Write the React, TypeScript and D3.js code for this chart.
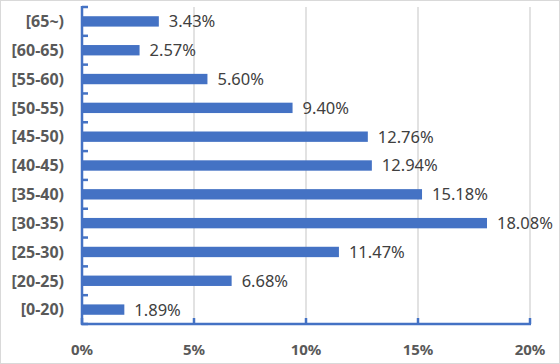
import React, { useEffect, useRef } from 'react';
import * as d3 from 'd3';

const categories = ['[0-20)', '[20-25)', '[25-30)', '[30-35)', '[35-40)', '[40-45)', '[45-50)', '[50-55)', '[55-60)', '[60-65)', '[65~)'];
const shares = [1.89, 6.68, 11.47, 18.08, 15.18, 12.94, 12.76, 9.40, 5.60, 2.57, 3.43];
const xTicks = [0, 5, 10, 15, 20];

const W = 560;
const H = 364;
const BLUE = '#4472C4';

const App = () => {
  const ref = useRef<SVGSVGElement>(null);

  useEffect(() => {
    const svg = d3.select(ref.current);
    svg.selectAll('*').remove();

    const left = 82;
    const right = 530;
    const top = 7;
    const bottom = 324;

    const x = d3.scaleLinear().domain([0, 20]).range([left, right]);
    // top of the chart is the last category
    const y = d3.scaleBand<string>()
      .domain([...categories].reverse())
      .range([top, bottom])
      .paddingInner(0)
      .paddingOuter(0);
    const barH = y.bandwidth() * 0.36;

    // chart border
    svg.append('rect')
      .attr('x', 0.5).attr('y', 0.5)
      .attr('width', W - 1).attr('height', H - 1)
      .attr('fill', '#fff')
      .attr('stroke', '#d9d9d9');

    // gridlines
    svg.selectAll('.grid')
      .data(xTicks.slice(1))
      .enter()
      .append('line')
      .attr('x1', d => x(d)).attr('x2', d => x(d))
      .attr('y1', top).attr('y2', bottom)
      .attr('stroke', '#d9d9d9')
      .attr('stroke-width', 1.5);

    // bars
    svg.selectAll('.bar')
      .data(categories)
      .enter()
      .append('rect')
      .attr('x', x(0))
      .attr('y', d => (y(d) as number) + y.bandwidth() / 2 - barH / 2)
      .attr('width', (_, i) => x(shares[i]) - x(0))
      .attr('height', barH)
      .attr('fill', BLUE);

    // value labels
    svg.selectAll('.val')
      .data(categories)
      .enter()
      .append('text')
      .attr('x', (_, i) => x(shares[i]) + 10)
      .attr('y', d => (y(d) as number) + y.bandwidth() / 2)
      .attr('dy', '0.36em')
      .style('font-family', 'Noto Sans, sans-serif')
      .style('font-size', '16.5px')
      .style('fill', '#404040')
      .text((_, i) => shares[i].toFixed(2) + '%');

    // category labels
    svg.selectAll('.cat')
      .data(categories)
      .enter()
      .append('text')
      .attr('x', 64)
      .attr('y', d => (y(d) as number) + y.bandwidth() / 2)
      .attr('dy', '0.36em')
      .attr('text-anchor', 'end')
      .style('font-family', 'Noto Sans, sans-serif')
      .style('font-weight', 'bold')
      .style('font-size', '16px')
      .style('fill', '#595959')
      .text(d => d);

    // y axis line and ticks (pointing inward)
    svg.append('line')
      .attr('x1', left).attr('x2', left)
      .attr('y1', top - 1).attr('y2', bottom + 1)
      .attr('stroke', BLUE).attr('stroke-width', 2.5);
    const boundaries = [...categories.map(c => y(c) as number), bottom];
    svg.selectAll('.ytick')
      .data(boundaries)
      .enter()
      .append('line')
      .attr('x1', left).attr('x2', left + 6)
      .attr('y1', d => d).attr('y2', d => d)
      .attr('stroke', BLUE).attr('stroke-width', 2.5);

    // x axis line and ticks
    svg.append('line')
      .attr('x1', left - 1).attr('x2', right + 1)
      .attr('y1', bottom).attr('y2', bottom)
      .attr('stroke', BLUE).attr('stroke-width', 2.5);
    svg.selectAll('.xtick')
      .data(xTicks)
      .enter()
      .append('line')
      .attr('x1', d => x(d)).attr('x2', d => x(d))
      .attr('y1', bottom).attr('y2', bottom - 6)
      .attr('stroke', BLUE).attr('stroke-width', 2.5);

    svg.selectAll('.xlab')
      .data(xTicks)
      .enter()
      .append('text')
      .attr('x', d => x(d))
      .attr('y', 350)
      .attr('dy', '0.36em')
      .attr('text-anchor', 'middle')
      .style('font-family', 'Noto Sans, sans-serif')
      .style('font-weight', 'bold')
      .style('font-size', '15px')
      .style('fill', '#595959')
      .text(d => d + '%');
  }, []);

  return (
    <svg ref={ref} width={W} height={H} style={{ position: 'absolute', left: 0, top: 0 }} />
  );
};

export default App;
